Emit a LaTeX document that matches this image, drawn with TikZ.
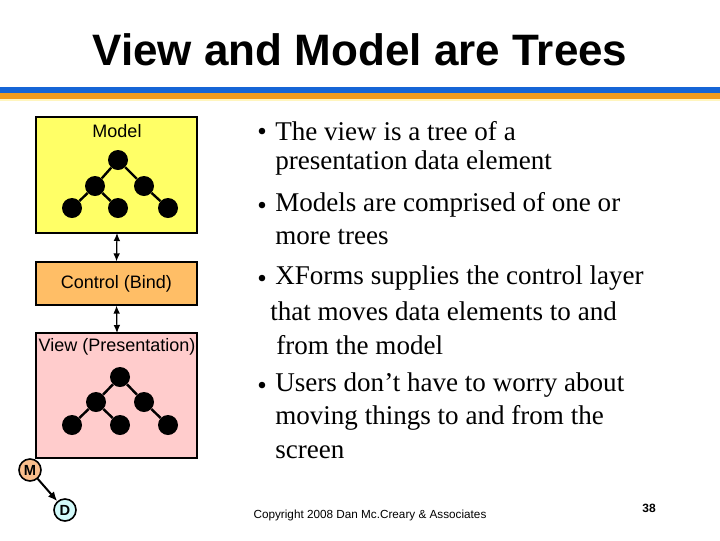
\documentclass[tikz,border=0pt]{standalone}
\usepackage{fontspec}
\setmainfont{Liberation Serif}
\setsansfont{Liberation Sans}
\usetikzlibrary{arrows.meta}
\begin{document}
\begin{tikzpicture}[x=0.75pt,y=-0.75pt,
  box/.style={draw=black,line width=0.9pt},
  dot/.style={circle,fill=black,minimum size=15pt,inner sep=0pt},
  edge/.style={line width=1.8pt},
  lab/.style={font=\sffamily\fontsize{13.5}{16}\selectfont},
  bul/.style={font=\fontsize{20.3}{24}\selectfont,anchor=west,inner sep=0pt},
  dbl/.style={{Latex[length=6pt,width=5pt]}-{Latex[length=6pt,width=5pt]},line width=0.9pt},
  circ/.style={circle,draw=black,line width=1.2pt,minimum size=16.5pt,inner sep=0pt,font=\sffamily\bfseries\fontsize{11}{12}\selectfont}]
\useasboundingbox (0,0) rectangle (720,540);
\fill[white] (0,0) rectangle (720,540);
\node[font=\sffamily\bfseries\fontsize{33}{38}\selectfont] (title) at (360,50) {View and Model are Trees};
\fill[fill={rgb,255:red,21;green,101;blue,214}] (0,87) rectangle (720,92.5);
\fill[fill={rgb,255:red,240;green,155;blue,30}] (0,93) rectangle (720,99);
\fill[fill={rgb,255:red,255;green,245;blue,190}] (0,99) rectangle (720,101);
% boxes
\draw[box,fill={rgb,255:red,255;green,255;blue,102}] (36,117) rectangle (197,233);
\node[lab] (ml) at (117,131) {Model};
\node[box,fill={rgb,255:red,255;green,190;blue,102},minimum width=120.75pt,minimum height=32.25pt,lab] (ctl) at (116.5,283.5) {Control (Bind)};
\draw[box,fill={rgb,255:red,255;green,204;blue,204}] (36,333) rectangle (197,458);
\node[lab] (vl) at (117,347) {View (Presentation)};
\coordinate (mb) at (117,233); \coordinate (vt) at (117,333);
\draw[dbl] (mb) -- (ctl.north);
\draw[dbl] (ctl.south) -- (vt);
% model tree
\node[dot] (a) at (118,160) {}; \node[dot] (b) at (95,186) {}; \node[dot] (c) at (144,186) {};
\node[dot] (d) at (72,208) {}; \node[dot] (e) at (118,208) {}; \node[dot] (f) at (168,208) {};
\draw[edge] (a)--(b) (a)--(c) (b)--(d) (b)--(e) (c)--(f);
% view tree
\node[dot] (a2) at (120,377) {}; \node[dot] (b2) at (96,402) {}; \node[dot] (c2) at (144,402) {};
\node[dot] (d2) at (72,425) {}; \node[dot] (e2) at (120,425) {}; \node[dot] (f2) at (168,425) {};
\draw[edge] (a2)--(b2) (a2)--(c2) (b2)--(d2) (b2)--(e2) (c2)--(f2);
% M D
\node[circ,fill={rgb,255:red,250;green,190;blue,140}] (M) at (30,470) {M};
\node[circ,fill={rgb,255:red,210;green,250;blue,250}] (D) at (65,510) {D};
\draw[-{Latex[length=7pt,width=6pt]},line width=1.5pt] (M) -- (D);
% bullets
\foreach \y in {131,205,278,385} \node[bul] at (257,\y+3) {•};
\node[bul] (t1) at (275,131) {The view is a tree of a};
\node[bul] (t2) at (275,163) {presentation data element};
\node[bul] (t3) at (275,205) {Models are comprised of one or};
\node[bul] (t4) at (275,237) {more trees};
\node[bul] (t5) at (275,278) {XForms supplies the control layer};
\node[bul] (t6) at (270,311) {that moves data elements to and};
\node[bul] (t7) at (276,345) {from the model};
\node[bul] (t8) at (275,385) {Users don’t have to worry about};
\node[bul] (t9) at (275,418) {moving things to and from the};
\node[bul] (t10) at (275,452) {screen};
\node[font=\sffamily\fontsize{8.8}{10}\selectfont] (cp) at (370,515) {Copyright 2008 Dan Mc.Creary \& Associates};
\node[font=\sffamily\bfseries\fontsize{9}{11}\selectfont] (pg) at (649,508) {38};
\end{tikzpicture}
\end{document}
